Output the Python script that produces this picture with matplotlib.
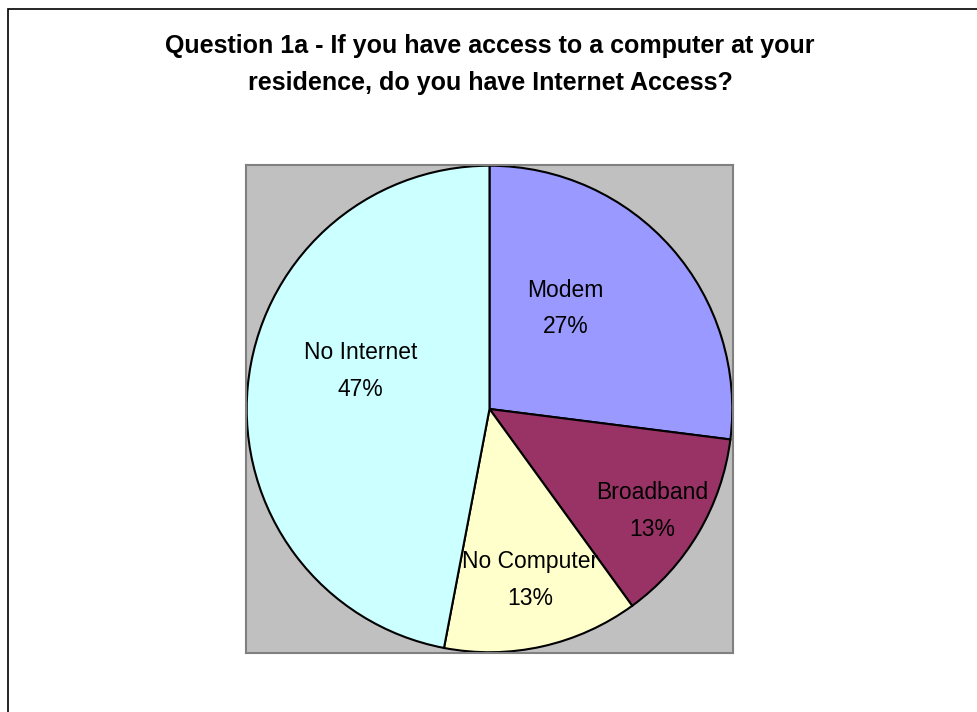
import matplotlib.pyplot as plt
from matplotlib.patches import Rectangle

# survey answers, clockwise from 12 o'clock
labels = ["Modem", "Broadband", "No Computer", "No Internet"]
shares = [27, 13, 13, 47]
colors = ["#9999FF", "#993366", "#FFFFCC", "#CCFFFF"]

title = ("Question 1a - If you have access to a computer at your\n"
         "residence, do you have Internet Access?")

# where each label sits, in pie-radius units from the centre
label_pos = [(0.313, 0.412), (0.671, -0.420), (0.169, -0.704), (-0.531, 0.156)]

plt.rcParams["font.family"] = ["Liberation Sans", "DejaVu Sans"]

fig = plt.figure(figsize=(9.78, 7.12), dpi=100)

# outer chart frame (runs off the right and bottom edges)
fig.patches.append(Rectangle((0.0077, -0.1), 1.2, 0.9874 + 0.1, transform=fig.transFigure,
                             fill=False, edgecolor="black", linewidth=1.2))

ax = fig.add_axes([0.2515, 0.0829, 0.498, 0.6854])
ax.set_facecolor("#C0C0C0")
for s in ax.spines.values():
    s.set_edgecolor("#808080")
    s.set_linewidth(1.5)

wedges, _ = ax.pie(shares, colors=colors, startangle=90, counterclock=False,
                   radius=1.0, wedgeprops={"edgecolor": "black", "linewidth": 1.5},
                   frame=True)
ax.set_xlim(-1.003, 1.003)
ax.set_ylim(-1.003, 1.003)
ax.set_xticks([])
ax.set_yticks([])
ax.set_aspect("auto")

for name, val, (x, y) in zip(labels, shares, label_pos):
    ax.text(x, y, f"{name}\n{val}%", ha="center", va="center", fontsize=16.5,
            linespacing=1.75, color="black")

fig.text(0.501, 0.909, title, ha="center", va="center", fontsize=18,
         fontweight="bold", linespacing=1.68)

fig.savefig("out.png", dpi=100)
